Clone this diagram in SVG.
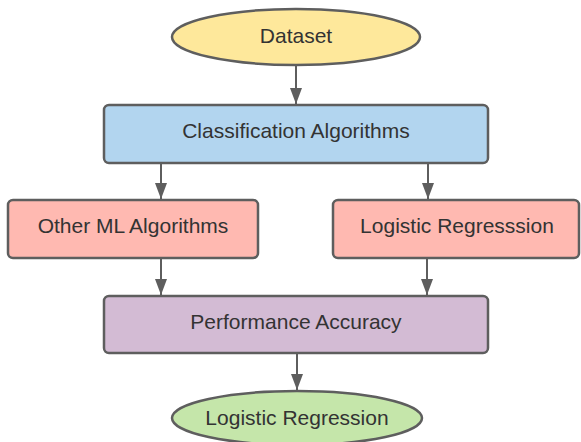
<svg xmlns="http://www.w3.org/2000/svg" width="581" height="442" viewBox="0 0 581 442">
<style>
.n{stroke:#5e5e5e;stroke-width:2.5}
.t{font-family:"Liberation Sans",Arial,sans-serif;font-size:21px;fill:#333;text-anchor:middle;dominant-baseline:central}
.c{stroke:#5e5e5e;stroke-width:2;fill:none;marker-end:url(#a)}
</style>
<defs>
<marker id="a" markerWidth="16" markerHeight="12" refX="16" refY="6" orient="auto" markerUnits="userSpaceOnUse" viewBox="0 0 16 12">
<path d="M0,0 L16,6 L0,12 Z" fill="#5e5e5e"/>
</marker>
</defs>
<rect width="581" height="442" fill="#fff"/>
<g id="connectors">
<path class="c" d="M296,65 V104"/>
<path class="c" d="M161,163 V199"/>
<path class="c" d="M428,163 V199"/>
<path class="c" d="M161,258 V295"/>
<path class="c" d="M427,258 V295"/>
<path class="c" d="M297,353 V390"/>
</g>
<g id="dataset">
<ellipse class="n" cx="296" cy="37" rx="124" ry="28" fill="#fee89b"/>
<text class="t" x="296" y="35">Dataset</text>
</g>
<g id="classification">
<rect class="n" x="104" y="105" width="384" height="58" rx="5" fill="#b2d5ef"/>
<text class="t" x="296" y="130">Classification Algorithms</text>
</g>
<g id="other-ml">
<rect class="n" x="8" y="200" width="250" height="58" rx="5" fill="#ffb9b1"/>
<text class="t" x="133" y="225">Other ML Algorithms</text>
</g>
<g id="logistic-regresssion">
<rect class="n" x="333" y="200" width="246" height="58" rx="5" fill="#ffb9b1"/>
<text class="t" x="457" y="225">Logistic Regresssion</text>
</g>
<g id="performance">
<rect class="n" x="104" y="296" width="384" height="57" rx="5" fill="#d3bbd4"/>
<text class="t" x="296" y="321">Performance Accuracy</text>
</g>
<g id="logistic-regression">
<ellipse class="n" cx="297" cy="418" rx="125" ry="27" fill="#c5e6aa"/>
<text class="t" x="297" y="417">Logistic Regression</text>
</g>
</svg>
